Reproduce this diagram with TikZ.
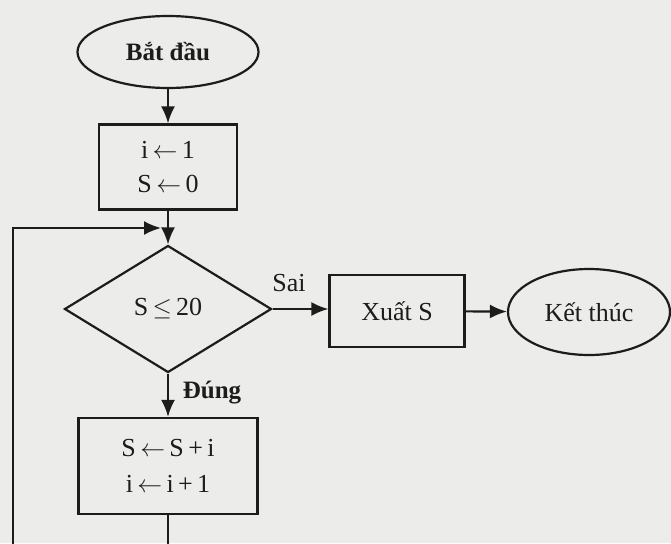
\documentclass[tikz,border=0pt]{standalone}
\usepackage{fontspec}
\setmainfont{Liberation Serif}
\usetikzlibrary{shapes.geometric,arrows.meta}
\definecolor{paper}{RGB}{236,236,234}
\definecolor{ink}{RGB}{28,28,28}
\newcommand{\getsarrow}{\,$\leftarrow$\,}
\tikzset{
  every node/.style={text=ink, font=\fontsize{26}{32}\selectfont},
  flow/.style={draw=ink, line width=2.2pt},
  arr/.style={flow, -{Latex[length=17pt,width=14pt]}},
  terminal/.style={flow, ellipse, inner sep=0pt},
  procbox/.style={flow, rectangle, inner sep=0pt, align=center},
  decision/.style={flow, diamond, inner sep=0pt, aspect=1.63},
  tag/.style={font=\fontsize{26}{32}\selectfont}
}
\begin{document}
\begin{tikzpicture}[x=1pt,y=-1pt]
  \fill[paper] (0,0) rectangle (671,543);
  \useasboundingbox (0,0) rectangle (671,543);
  \clip (0,0) rectangle (671,543);

  % nodes
  \node[terminal, minimum width=181pt, minimum height=72pt] (start) at (168,52)
    {\bfseries\fontsize{25}{30}\selectfont Bắt đầu};
  \node[procbox, minimum width=138pt, minimum height=85pt] (init) at (168,167)
    {i\getsarrow 1\\[2pt]S\getsarrow 0};
  \node[decision, minimum width=207pt, minimum height=127pt] (test) at (168,309)
    {S\,$\leq$\,20};
  \node[procbox, minimum width=135pt, minimum height=72pt] (out) at (397,311) {Xuất S};
  \node[terminal, minimum width=162pt, minimum height=86pt] (stop) at (589,312) {Kết thúc};
  \node[procbox, minimum width=179pt, minimum height=96pt] (body) at (168,466)
    {S\getsarrow S\,+\,i\\[4pt]i\getsarrow i\,+\,1};

  % loop coordinates
  \coordinate (loopbot) at (13,570);
  \coordinate (join) at (161,228);

  % connectors
  \draw[arr] (start) -- (init);
  \draw[arr] (init) -- (test);
  \draw[arr] (test.east) -- (test.east -| out.west);
  \draw[arr] (out) -- (stop);
  \draw[arr] (test.south) -- (body.north);
  \draw[arr] (body.south) |- (loopbot) |- (join);

  % branch labels
  \node[tag] (sai) at (289,283) {Sai};
  \node[tag, font=\bfseries\fontsize{25}{30}\selectfont] (dung) at (212,393) {Đúng};
\end{tikzpicture}
\end{document}
